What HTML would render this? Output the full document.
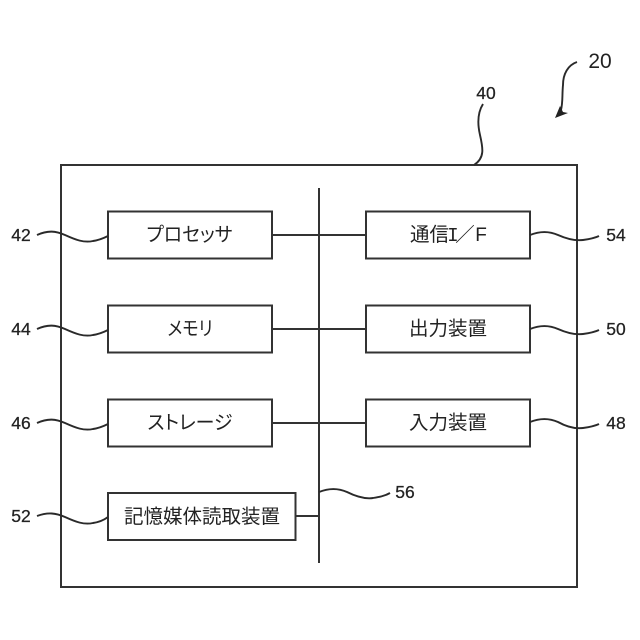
<!DOCTYPE html>
<html lang="ja"><head><meta charset="utf-8"><style>
html,body{margin:0;padding:0;background:#fff}
svg{display:block}
.j{font-family:"Noto Sans CJK JP","IPAGothic",sans-serif;font-size:19.5px;fill:#222;text-anchor:middle}
.k{font-feature-settings:"palt" 1}
.n{font-family:"Liberation Sans",sans-serif;font-size:17.5px;fill:#222;stroke:#222;stroke-width:.25;text-anchor:middle}
.b{fill:none;stroke:#333;stroke-width:2}
.l{fill:none;stroke:#2a2a2a;stroke-width:1.9}
</style></head><body>
<svg width="640" height="640" viewBox="0 0 640 640" xmlns="http://www.w3.org/2000/svg">
<rect class="b" x="61" y="165" width="516" height="422"/>
<rect class="b" x="108" y="211.5" width="164" height="47"/>
<rect class="b" x="108" y="305.5" width="164" height="47"/>
<rect class="b" x="108" y="399.5" width="164" height="47"/>
<rect class="b" x="108" y="493" width="187.500" height="47"/>
<rect class="b" x="366" y="211.5" width="164" height="47"/>
<rect class="b" x="366" y="305.5" width="164" height="47"/>
<rect class="b" x="366" y="399.500" width="164" height="47"/>
<path class="b" d="M319 188V563M272 235H366M272 329H366M272 423H366M295.500 516H319"/>
<text class="j k" x="189.500" y="241" textLength="86" lengthAdjust="spacingAndGlyphs">プロセッサ</text>
<text class="j k" x="190" y="335" textLength="45" lengthAdjust="spacingAndGlyphs">メモリ</text>
<text class="j k" x="190" y="429" textLength="85" lengthAdjust="spacingAndGlyphs">ストレージ</text>
<text class="j" x="202" y="523">記憶媒体読取装置</text>
<text class="j" x="429.500" y="241">通信</text>
<text x="453" y="241" style="font-family:'Liberation Mono',monospace;font-size:19px;fill:#222;text-anchor:middle">I</text>
<text class="j" x="465" y="241">／</text>
<text x="481" y="241" style="font-family:'Liberation Sans',sans-serif;font-size:19px;fill:#222;text-anchor:middle">F</text>
<text class="j" x="448" y="335">出力装置</text>
<text class="j" x="448" y="429">入力装置</text>
<text class="n" x="21" y="241">42</text>
<text class="n" x="21" y="335">44</text>
<text class="n" x="21" y="429">46</text>
<text class="n" x="21" y="522">52</text>
<text class="n" x="616" y="241">54</text>
<text class="n" x="616" y="335">50</text>
<text class="n" x="616" y="429">48</text>
<text class="n" x="405" y="498">56</text>
<text class="n" x="486" y="99">40</text>
<text x="600" y="68" style="font-family:'Liberation Sans',sans-serif;font-size:21px;fill:#222;text-anchor:middle">20</text>
<path class="l" d="M37 235C48 230 56 231 65 235C76 240 84 243 93 241C100 240 104 238 108 236"/>
<path class="l" d="M37 329C48 324 56 325 65 329C76 334 84 337 93 335C100 334 104 332 108 330"/>
<path class="l" d="M37 423C48 418 56 419 65 423C76 428 84 431 93 429C100 428 104 426 108 424"/>
<path class="l" d="M37 516C48 512 56 513 65 517C76 522 84 525 93 523C100 522 104 520 108 517"/>
<path class="l" d="M530 235C540 231 549 231 558 235C567 239 575 241 583 240C590 239 595 238 599 236"/>
<path class="l" d="M530 329C540 325 549 325 558 329C567 333 575 335 583 334C590 333 595 332 599 330"/>
<path class="l" d="M530 422C540 418 549 418 558 422C567 427 575 429 583 428C590 427 595 426 599 424"/>
<path class="l" d="M319 492C329 488 338 488 347 492C357 497 366 499 373 498C379 497 385 496 390 493"/>
<path class="l" d="M483 104C478 112 477 122 480 135C483 148 485 158 474 165"/>
<path class="l" d="M577 62C568 65 563 74 563 85C562 95 563 102 561 110"/>
<path d="M555 118L560 106L563 112L568 113Z" fill="#222"/>
</svg>
</body></html>
